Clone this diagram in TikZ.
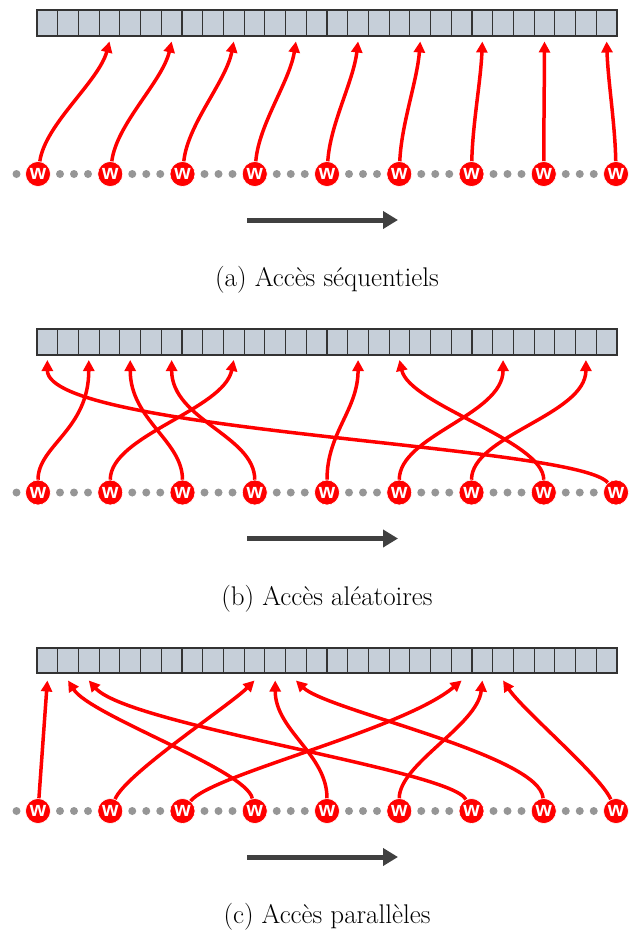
\documentclass[tikz,border=0pt]{standalone}
\usepackage{fontspec}
\newfontfamily\wfont{Liberation Sans}
\usetikzlibrary{arrows.meta}
\definecolor{wred}{RGB}{255,0,0}
\definecolor{cellfill}{RGB}{198,207,217}
\definecolor{celldraw}{RGB}{51,51,51}
\definecolor{dotgray}{RGB}{150,150,150}
\definecolor{arrowgray}{RGB}{64,64,64}
\begin{document}
\begin{tikzpicture}[x=1pt,y=1pt,
  cellbox/.style={draw=celldraw, fill=cellfill, line width=1.2pt, minimum width=20.714pt, minimum height=25.5pt, inner sep=0pt, outer sep=0pt, anchor=north west},
  wnode/.style={circle, fill=wred, draw=white, line width=0.6pt, minimum size=25pt, inner sep=0pt, text=white, font=\wfont\bfseries\fontsize{21}{21}\selectfont},
  acc/.style={draw=wred, line width=3.5pt, -{Triangle[length=11pt,width=11pt]}},
  flow/.style={draw=arrowgray, line width=5pt, -{Triangle[length=15pt,width=17pt]}},
  caption/.style={font=\fontsize{27}{31}\selectfont, anchor=center}
]
\useasboundingbox (0,0) rectangle (633,-934);
\foreach \p/\yo/\tp/\txt in {a/0/5.5/séquentiels, b/318.5/5.5/aléatoires, c/637/7.5/parallèles}{
  \begin{scope}[yshift=-\yo pt]
    \foreach \i in {0,...,27}{
      \node[cellbox] (\p-c\i) at ({37+20.714*\i},-10.5) {};
    }
    \draw[celldraw, line width=2pt] (\p-c0.north west) rectangle (\p-c27.south east);
    \foreach \i in {0,...,27}{
      \coordinate (\p-t\i) at ([yshift=-\tp pt]\p-c\i.south);
    }
    \fill[dotgray] (16.5,-174) circle (4);
    \foreach \k in {0,...,7}{
      \foreach \j in {22,36,50}{
        \fill[dotgray] ({38+72.25*\k+\j},-174) circle (4);
      }
    }
    \foreach \k in {0,...,8}{
      \node[wnode] (\p-w\k) at ({38+72.25*\k},-174) {w};
    }
    \coordinate (\p-fs) at (247,-220);
    \coordinate (\p-fe) at (398,-220);
    \draw[flow] (\p-fs) -- (\p-fe);
    \node[caption] (\p-cap) at (327,-280) {(\p) Accès \txt};
  \end{scope}
}
% panel a
\foreach \k in {0,...,8}{
  \pgfmathtruncatemacro\cc{3*\k+3}
  \pgfmathsetmacro\dx{(37+20.714*(\cc+0.5))-(38+72.25*\k)}
  \draw[acc] (a-w\k) .. controls +({0.1*\dx},50) and +({-0.15*\dx},-40) .. (a-t\cc);
}
% panel b
\draw[acc] (b-w0) .. controls +(0,47) and +(0,-70) .. (b-t2);
\draw[acc] (b-w1) .. controls +(0,57) and +(-10,-50) .. (b-t9);
\draw[acc] (b-w2) .. controls +(0,52) and +(0,-60) .. (b-t4);
\draw[acc] (b-w3) .. controls +(0,57) and +(0,-60) .. (b-t6);
\draw[acc] (b-w4) .. controls +(0,60) and +(0,-50) .. (b-t15);
\draw[acc] (b-w5) .. controls +(0,57) and +(0,-55) .. (b-t22);
\draw[acc] (b-w6) .. controls +(0,57) and +(0,-55) .. (b-t26);
\draw[acc] (b-w7) .. controls +(0,52) and +(10,-45) .. (b-t17);
\draw[acc] (b-w8) .. controls +(-40,48) and +(0,-72) .. (b-t0);
% panel c
\draw[acc] (c-w0) -- (c-t0);
\draw[acc] (c-w1) .. controls +(15,37) and +(-25,-25) .. (c-t10);
\draw[acc] (c-w2) .. controls +(30,37) and +(-60,-50) .. (c-t20);
\draw[acc] (c-w3) .. controls +(-8,41) and +(22,-35) .. (c-t1);
\draw[acc] (c-w4) .. controls +(0,57) and +(0,-50) .. (c-t11);
\draw[acc] (c-w5) .. controls +(0,47) and +(-5,-45) .. (c-t21);
\draw[acc] (c-w6) .. controls +(-20,41) and +(40,-45) .. (c-t2);
\draw[acc] (c-w7) .. controls +(-3,56) and +(31,-30) .. (c-t12);
\draw[acc] (c-w8) .. controls +(-16,36) and +(20,-30) .. (c-t22);
\end{tikzpicture}
\end{document}
